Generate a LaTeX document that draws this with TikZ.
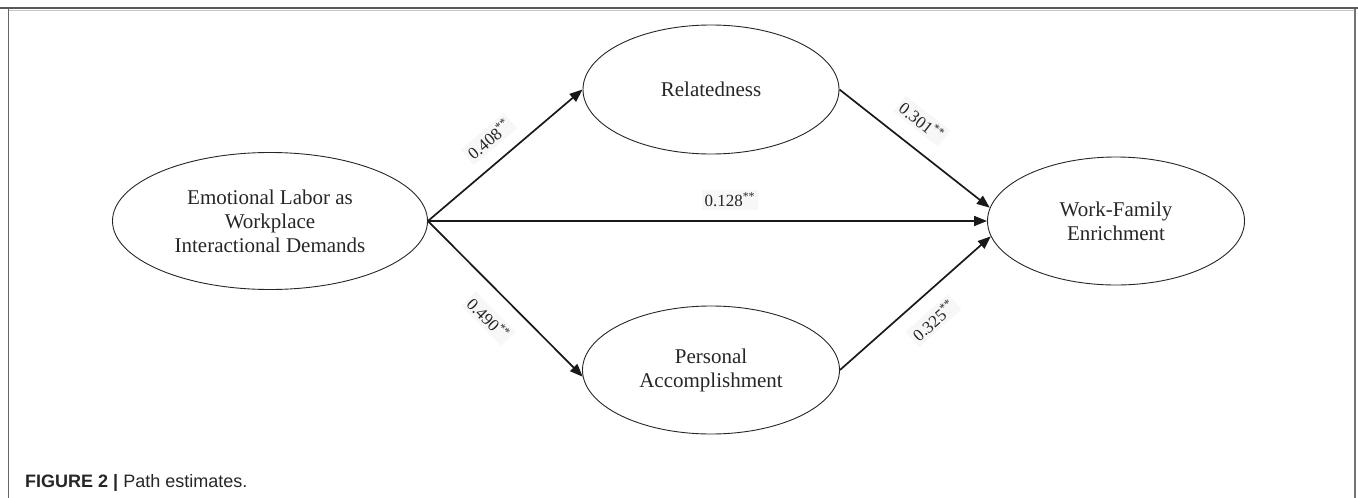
\documentclass[tikz,border=0pt]{standalone}
\usepackage{fontspec}
\setmainfont{Liberation Serif}
\setsansfont{Liberation Sans}
\usetikzlibrary{shapes.geometric,arrows.meta}
\begin{document}
\begin{tikzpicture}[x=1pt,y=-1pt,
  latent/.style={ellipse,draw=black!85,line width=0.9pt,inner sep=0pt,align=center,
    font=\fontsize{21}{24}\selectfont,text=black!85},
  path/.style={line width=1.7pt,draw=black!90,-{Triangle[length=13pt,width=10pt]}},
  est/.style={font=\fontsize{17}{19}\selectfont,text=black!85,fill=black!3,inner sep=3pt,sloped}
]
\useasboundingbox (0,0) rectangle (1358,498);
% frame
\draw[line width=2pt,black!65] (0,8) -- (1358,8);
\draw[line width=1pt,black!22] (8,10.5) -- (1355,10.5);
\draw[line width=1pt,black!60] (8,9) -- (8,498);
\draw[line width=2pt,black!55] (1355,9) -- (1355,498);
% nodes
\node[latent,minimum width=315pt,minimum height=137pt] (E) at (270,221) {Emotional Labor as\\Workplace\\Interactional Demands};
\node[latent,minimum width=256pt,minimum height=129pt] (R) at (711,89.5) {Relatedness};
\node[latent,minimum width=257pt,minimum height=128pt] (P) at (711,370) {Personal\\Accomplishment};
\node[latent,minimum width=257pt,minimum height=128pt] (W) at (1116,221) {Work-Family\\Enrichment};
% paths
\draw[path] (E.east) -- node[est,pos=0.49,above=12pt] {0.408\textsuperscript{**}} (R.west);
\draw[path] (E.east) -- node[est,pos=0.51,below=15pt] {0.490\textsuperscript{**}} (P.183);
\draw[path] (E.east) -- node[est,pos=0.54,above=10pt] {0.128\textsuperscript{**}} (W.west);
\draw[path] (R.east) -- node[est,pos=0.44,above=15pt] {0.301\textsuperscript{**}} (W.174);
\draw[path] (P.east) -- node[est,pos=0.51,below=14pt] {0.325\textsuperscript{**}} (W.187);
% caption
\node[anchor=base west,inner sep=0pt,font=\fontsize{18}{21}\selectfont\sffamily,text=black!85] (cap) at (25,487) {\textbf{FIGURE 2 |} Path estimates.};
\end{tikzpicture}
\end{document}
